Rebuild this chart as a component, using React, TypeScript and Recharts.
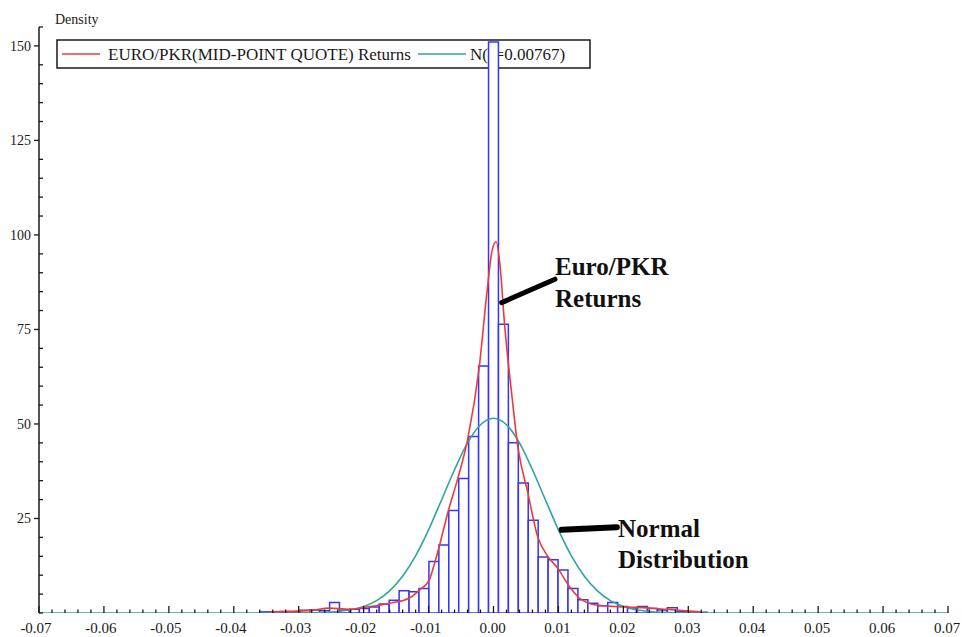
import { ComposedChart, Bar, Line, XAxis, YAxis, ReferenceLine } from "recharts";

// histogram bins (centre of each bin, bin width 0.00153) and density
const binCenters = [
  -0.03519, -0.03366, -0.03213, -0.0306, -0.02907, -0.02754, -0.02601, -0.02448,
  -0.02295, -0.02142, -0.01989, -0.01836, -0.01683, -0.0153, -0.01377, -0.01224,
  -0.01071, -0.00918, -0.00765, -0.00612, -0.00459, -0.00306, -0.00153, 0,
  0.00153, 0.00306, 0.00459, 0.00612, 0.00765, 0.00918, 0.01071, 0.01224,
  0.01377, 0.0153, 0.01683, 0.01836, 0.01989, 0.02142, 0.02295, 0.02448,
  0.02601, 0.02754, 0.02907, 0.0306, 0.03213,
];
const binDensity = [
  0.3, 0.3, 0.4, 0.3, 0.7, 0.8, 0.6, 2.8,
  0.7, 1.0, 1.2, 1.6, 2.4, 3.4, 5.9, 5.6,
  6.5, 13.6, 18.0, 27.1, 35.6, 46.7, 65.3, 151,
  76.4, 45.0, 34.4, 24.5, 14.8, 14.1, 11.4, 6.5,
  3.5, 2.6, 1.9, 2.8, 1.7, 1.3, 1.7, 1.2,
  0.8, 1.4, 0.4, 0.3, 0.2,
];

// kernel density of the returns (red)
const kernelX = [
  -0.0345, -0.032, -0.028, -0.0253, -0.0222, -0.019, -0.016, -0.013, -0.0114,
  -0.0099, -0.0091, -0.0083, -0.007, -0.0055, -0.004, -0.0022, -0.001, -0.0002,
  0.0004, 0.001, 0.0017, 0.0028, 0.00375, 0.0053, 0.0068, 0.0084, 0.0099,
  0.0117, 0.01326, 0.0158, 0.0189, 0.022, 0.0251, 0.028, 0.0318,
];
const kernelY = [
  0.3, 0.4, 0.7, 1.3, 1.0, 1.7, 2.6, 3.9, 6.1,
  8.7, 13, 18, 26.8, 35.6, 45.8, 65, 85, 96,
  98.2, 92, 76.4, 58, 44, 31.7, 20.2, 14.9, 11.8,
  7.0, 3.9, 2.1, 1.7, 1.5, 1.2, 0.8, 0.3,
];

// normal reference curve N(s=0.00767) (teal)
const normalX = [
  -0.07, -0.032, -0.028, -0.026, -0.024, -0.022, -0.02, -0.018, -0.016, -0.014,
  -0.012, -0.01, -0.008, -0.006, -0.004, -0.002, 0, 0.002, 0.004, 0.006, 0.008,
  0.01, 0.012, 0.014, 0.016, 0.018, 0.02, 0.022, 0.024, 0.026, 0.028, 0.032, 0.07,
];
const normalY = [
  0, 0, 0.07, 0.17, 0.39, 0.84, 1.72, 3.27, 5.84, 9.7,
  15.1, 22.0, 29.9, 37.9, 45.0, 49.8, 51.5, 49.8, 45.0, 37.9, 29.9,
  22.0, 15.1, 9.7, 5.84, 3.27, 1.72, 0.84, 0.39, 0.17, 0.07, 0, 0,
];

const xMajorTicks = [-0.07, -0.06, -0.05, -0.04, -0.03, -0.02, -0.01, 0, 0.01, 0.02, 0.03, 0.04, 0.05, 0.06, 0.07];
const xTickLabels = ["-0.07", "-0.06", "-0.05", "-0.04", "-0.03", "-0.02", "-0.01", "0.00", "0.01", "0.02", "0.03", "0.04", "0.05", "0.06", "0.07"];
const yMajorTicks = [25, 50, 75, 100, 125, 150];
const yTickLabels = ["25", "50", "75", "100", "125", "150"];

// minor ticks: every 0.002 on x, every 5 on y
const xAllTicks = Array.from({ length: 71 }, (_, i) => Math.round((-0.07 + i * 0.002) * 1000) / 1000);
const yAllTicks = Array.from({ length: 32 }, (_, i) => i * 5);

const legendItems = ["EURO/PKR(MID-POINT QUOTE) Returns", "N(s=0.00767)"];

const BLUE = "#3636f2";
const RED = "#f03a3a";
const TEAL = "#2ea5a0";
const INK = "#1a1a1a";
const SERIF = "'Liberation Serif', 'Times New Roman', serif";

const W = 962;
const H = 637;
const PLOT_LEFT = 39;
const PLOT_RIGHT = 948;
const X_AXIS_H = 24;
const PLOT_BOTTOM = H - X_AXIS_H;
const BIN_PX = (0.00153 / 0.14) * (PLOT_RIGHT - PLOT_LEFT);

const binRows = binCenters.map((x, i) => ({ x, density: binDensity[i] }));
const kernelRows = kernelX.map((x, i) => ({ x, y: kernelY[i] }));
const normalRows = normalX.map((x, i) => ({ x, y: normalY[i] }));

function XTick(props: any) {
  const { x, payload } = props;
  const y = PLOT_BOTTOM;
  const v = payload.value;
  const i = xMajorTicks.findIndex((t) => Math.abs(t - v) < 1e-9);
  const major = i >= 0;
  return (
    <g>
      <line x1={x} x2={x} y1={y} y2={y - (major ? 7 : 3.5)} stroke={INK} strokeWidth={1.3} />
      {major && (
        <text x={x + (v < 0 ? -3 : -1)} y={y + 20} textAnchor="middle" fontFamily={SERIF} fontSize={15} fill={INK}>
          {xTickLabels[i]}
        </text>
      )}
    </g>
  );
}

function YTick(props: any) {
  const { x, y, payload } = props;
  const i = yMajorTicks.indexOf(payload.value);
  const major = i >= 0;
  return (
    <g>
      {major ? (
        <line x1={x - 5} x2={x} y1={y} y2={y} stroke={INK} strokeWidth={1.3} />
      ) : (
        <line x1={x} x2={x + 4} y1={y} y2={y} stroke={INK} strokeWidth={1.3} />
      )}
      {major && (
        <text x={x - 8} y={y + 5} textAnchor="end" fontFamily={SERIF} fontSize={14} fill={INK}>
          {yTickLabels[i]}
        </text>
      )}
    </g>
  );
}

export default function App() {
  return (
    <div style={{ position: "absolute", left: 0, top: 0, width: W, height: H, background: "#fff" }}>
      {/* legend sits behind the plot, the spike covers part of it */}
      <svg width={W} height={H} style={{ position: "absolute", left: 0, top: 0 }}>
        <rect x={57} y={40} width={533} height={28} fill="#fff" stroke={INK} strokeWidth={1.5} />
        <line x1={62} x2={100} y1={54} y2={54} stroke={RED} strokeWidth={1.6} />
        <text x={108} y={60} fontFamily={SERIF} fontSize={17} fill={INK}>{legendItems[0]}</text>
        <line x1={418} x2={466} y1={54} y2={54} stroke={TEAL} strokeWidth={1.6} />
        <text x={470} y={60} fontFamily={SERIF} fontSize={17} fill={INK}>{legendItems[1]}</text>
      </svg>

      <div style={{ position: "absolute", left: 0, top: 0 }}>
        <ComposedChart width={W} height={H} data={binRows} margin={{ top: 27, right: W - PLOT_RIGHT, bottom: 0, left: 0 }}>
          <XAxis xAxisId="bins" dataKey="x" type="number" domain={[-0.07, 0.07]} allowDataOverflow hide />
          <XAxis
            xAxisId="x"
            dataKey="x"
            type="number"
            domain={[-0.07, 0.07]}
            allowDataOverflow
            ticks={xAllTicks}
            interval={0}
            tickSize={0}
            tickMargin={0}
            tickLine={false}
            tick={<XTick />}
            height={X_AXIS_H}
            axisLine={{ stroke: INK, strokeWidth: 1.5 }}
          />
          <YAxis
            type="number"
            domain={[0, 155]}
            allowDataOverflow
            ticks={yAllTicks}
            interval={0}
            tickSize={0}
            tickMargin={0}
            tickLine={false}
            tick={<YTick />}
            width={PLOT_LEFT}
            axisLine={{ stroke: INK, strokeWidth: 1.5 }}
          />
          <Bar
            xAxisId="bins"
            dataKey="density"
            fill="#fff"
            stroke={BLUE}
            strokeWidth={1.5}
            barSize={BIN_PX - 0.03}
            isAnimationActive={false}
          />
          <Line
            xAxisId="x"
            data={normalRows}
            dataKey="y"
            type="monotone"
            stroke={TEAL}
            strokeWidth={1.6}
            dot={false}
            activeDot={false}
            isAnimationActive={false}
          />
          <Line
            xAxisId="x"
            data={kernelRows}
            dataKey="y"
            type="monotone"
            stroke={RED}
            strokeWidth={1.6}
            dot={false}
            activeDot={false}
            isAnimationActive={false}
          />
          <ReferenceLine
            xAxisId="x"
            segment={[{ x: 0.00126, y: 82.1 }, { x: 0.00947, y: 88.3 }]}
            stroke="#000"
            strokeWidth={5}
            strokeLinecap="round"
          />
          <ReferenceLine
            xAxisId="x"
            segment={[{ x: 0.0105, y: 22.0 }, { x: 0.019, y: 22.7 }]}
            stroke="#000"
            strokeWidth={6}
            strokeLinecap="round"
          />
        </ComposedChart>
      </div>

      <svg width={W} height={H} style={{ position: "absolute", left: 0, top: 0, pointerEvents: "none" }}>
        <text x={55} y={24} fontFamily={SERIF} fontSize={14} fill={INK}>Density</text>
        <g fontFamily={SERIF} fontSize={25} fontWeight="bold" fill="#111">
          <text x={555} y={275}>Euro/PKR</text>
          <text x={555} y={307}>Returns</text>
          <text x={618} y={537}>Normal</text>
          <text x={618} y={568}>Distribution</text>
        </g>
      </svg>
    </div>
  );
}
